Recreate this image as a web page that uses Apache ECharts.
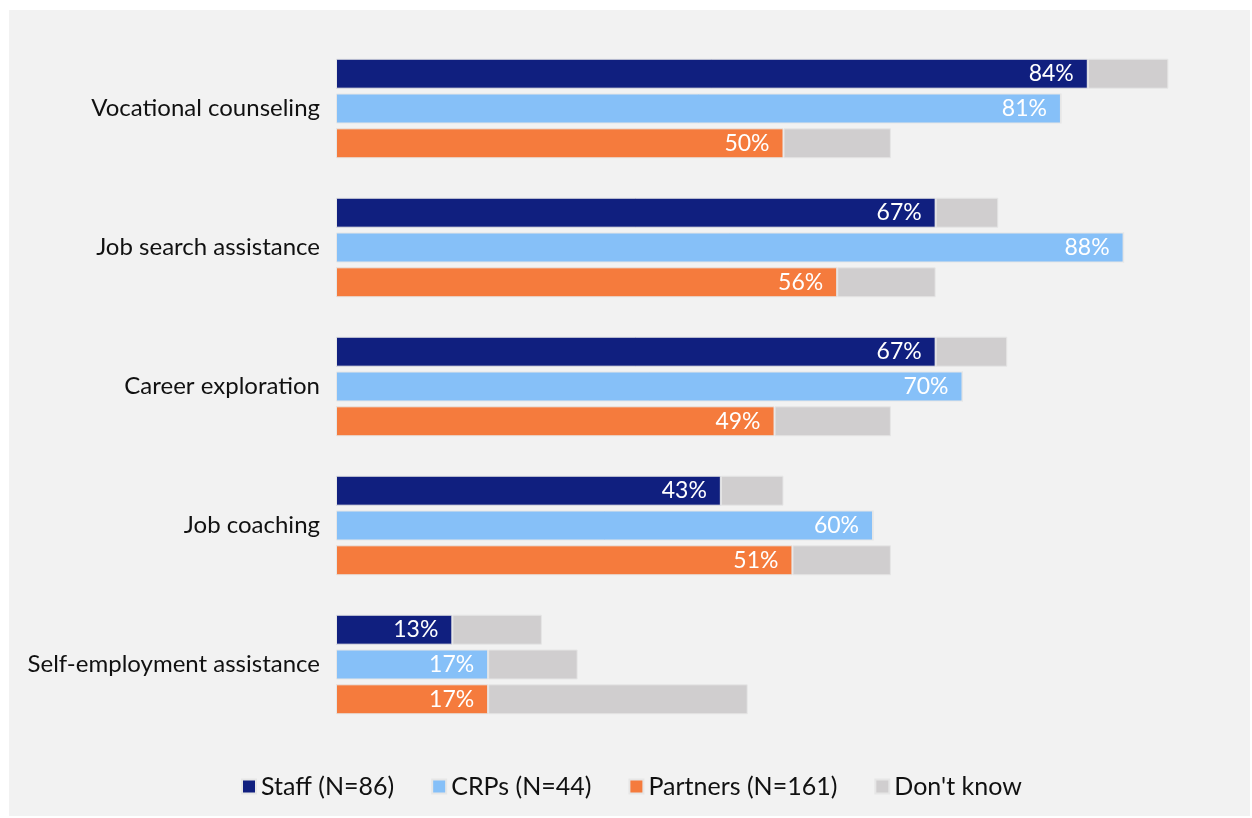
<!DOCTYPE html>
<html>
<head>
<meta charset="utf-8">
<title>Services provided</title>
<script src="https://cdn.jsdelivr.net/npm/echarts@6/dist/echarts.min.js"></script>
<style>
  html, body { margin: 0; padding: 0; background: #ffffff; }
  #chart { width: 1252px; height: 818px; }
</style>
</head>
<body>
<div id="chart"></div>
<script>
// Services, top to bottom
const categories = [
  'Vocational counseling',
  'Job search assistance',
  'Career exploration',
  'Job coaching',
  'Self-employment assistance'
];

// Percent reporting the service, by respondent group
const staffValues    = [84, 67, 67, 43, 13];
const crpValues      = [81, 88, 70, 60, 17];
const partnerValues  = [50, 56, 49, 51, 17];

// Percent answering "Don't know", by respondent group
const staffDontKnow   = [9, 7, 8, 7, 10];
const crpDontKnow     = [0, 0, 0, 0, 10];
const partnerDontKnow = [12, 11, 13, 11, 29];

const seriesNames = ['Staff (N=86)', 'CRPs (N=44)', 'Partners (N=161)', "Don't know"];

const COLORS = {
  staff: '#101f7f',
  crp: '#86c0f8',
  partner: '#f57b3d',
  dk: '#d0cecf'
};

const FONT = 'Lato, "Open Sans", "DejaVu Sans", sans-serif';
const BAR_W = 30;

function valueBar(name, data, color, stack) {
  return {
    name: name,
    type: 'bar',
    stack: stack,
    data: data,
    barWidth: BAR_W,
    barGap: '16%',
    itemStyle: { color: color, borderColor: '#e6e6e6', borderWidth: 1 },
    label: {
      show: true,
      position: 'insideRight',
      distance: 14,
      color: '#ffffff',
      fontFamily: FONT,
      fontSize: 23,
      formatter: p => p.value + '%'
    },
    emphasis: { disabled: true }
  };
}

function dkBar(data, stack) {
  return {
    name: seriesNames[3],
    type: 'bar',
    stack: stack,
    data: data,
    barWidth: BAR_W,
    barGap: '16%',
    itemStyle: { color: COLORS.dk, borderColor: '#e6e6e6', borderWidth: 1 },
    label: { show: false },
    emphasis: { disabled: true }
  };
}

const chart = echarts.init(document.getElementById('chart'), null, { renderer: 'canvas' });

chart.setOption({
  backgroundColor: '#ffffff',
  animation: false,
  graphic: [{
    type: 'rect',
    z: -10,
    silent: true,
    shape: { x: 9, y: 10, width: 1241, height: 806 },
    style: { fill: '#f2f2f2' }
  }],
  grid: { left: 336, right: 21, top: 39, bottom: 84, containLabel: false },
  xAxis: {
    type: 'value',
    min: 0,
    max: 100,
    show: false
  },
  yAxis: {
    type: 'category',
    data: categories,
    inverse: true,
    axisLine: { show: false },
    axisTick: { show: false },
    splitLine: { show: false },
    axisLabel: {
      color: '#111111',
      fontFamily: FONT,
      fontSize: 24,
      margin: 16
    }
  },
  legend: {
    data: seriesNames,
    bottom: 14,
    left: 236,
    icon: 'rect',
    itemWidth: 14,
    itemHeight: 14,
    itemGap: 37,
    textStyle: { color: '#111111', fontFamily: FONT, fontSize: 25, padding: [0, 0, 0, 0] },
    selectedMode: false
  },
  color: [COLORS.staff, COLORS.crp, COLORS.partner, COLORS.dk],
  series: [
    valueBar(seriesNames[0], staffValues, COLORS.staff, 'staff'),
    valueBar(seriesNames[1], crpValues, COLORS.crp, 'crp'),
    valueBar(seriesNames[2], partnerValues, COLORS.partner, 'partner'),
    dkBar(staffDontKnow, 'staff'),
    dkBar(crpDontKnow, 'crp'),
    dkBar(partnerDontKnow, 'partner')
  ]
});
</script>
</body>
</html>
